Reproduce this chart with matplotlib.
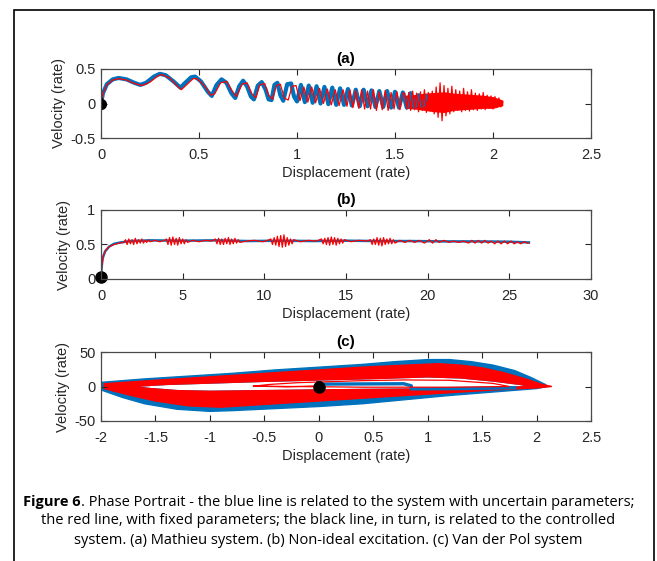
import matplotlib
matplotlib.use("Agg")
import matplotlib.pyplot as plt
import numpy as np
from matplotlib.patches import Rectangle, PathPatch
from matplotlib.path import Path
from matplotlib.ticker import FuncFormatter

BLUE = "#0072BD"
RED = "#FF0000"

# (a) Mathieu system: (displacement, velocity)
A_BLUE = [(0, 0), (0.01, 0.15), (0.03, 0.28), (0.06, 0.35), (0.09, 0.37), (0.13, 0.35),
          (0.17, 0.3), (0.2, 0.27), (0.23, 0.3), (0.27, 0.39), (0.3, 0.43), (0.33, 0.41),
          (0.37, 0.32), (0.405, 0.23), (0.43, 0.3), (0.46, 0.38), (0.48, 0.39), (0.51, 0.32),
          (0.545, 0.17), (0.565, 0.11), (0.59, 0.27), (0.615, 0.35), (0.64, 0.3), (0.665, 0.15),
          (0.685, 0.08), (0.705, 0.25), (0.725, 0.33), (0.745, 0.25), (0.765, 0.1), (0.78, 0.06),
          (0.8, 0.26), (0.82, 0.31), (0.84, 0.2), (0.855, 0.06), (0.87, 0.05), (0.885, 0.27),
          (0.9, 0.3), (0.915, 0.12), (0.93, 0.04), (0.95, 0.28), (0.97, 0.29), (0.985, 0.1),
          (1.0, 0.03), (1.02, 0.27), (1.04, 0.02), (1.06, 0.26), (1.08, 0.01), (1.1, 0.25),
          (1.12, 0.0), (1.14, 0.24), (1.16, -0.01), (1.18, 0.23), (1.2, -0.02), (1.22, 0.22),
          (1.24, -0.02), (1.26, 0.21), (1.28, -0.03), (1.3, 0.2), (1.32, -0.04), (1.34, 0.2),
          (1.36, -0.04), (1.38, 0.19), (1.4, -0.05), (1.42, 0.18), (1.44, -0.05), (1.46, 0.18),
          (1.48, -0.06), (1.5, 0.17), (1.52, -0.06), (1.54, 0.16), (1.56, -0.06), (1.58, 0.15),
          (1.6, -0.05), (1.62, 0.12), (1.64, -0.04), (1.66, 0.1)]

A_RED = [(0, 0), (0.01, 0.14), (0.03, 0.27), (0.06, 0.34), (0.09, 0.36), (0.13, 0.34),
         (0.17, 0.29), (0.21, 0.26), (0.25, 0.31), (0.29, 0.4), (0.31, 0.42), (0.35, 0.37),
         (0.39, 0.25), (0.41, 0.2), (0.44, 0.28), (0.47, 0.36), (0.49, 0.36), (0.53, 0.25),
         (0.56, 0.12), (0.58, 0.14), (0.61, 0.3), (0.64, 0.32), (0.67, 0.18), (0.69, 0.1),
         (0.72, 0.28), (0.745, 0.3), (0.77, 0.14), (0.79, 0.08), (0.81, 0.27), (0.835, 0.29),
         (0.855, 0.12), (0.875, 0.06), (0.895, 0.26), (0.915, 0.28), (0.935, 0.08), (0.955, 0.05),
         (0.975, 0.25), (0.995, 0.26), (1.015, 0.04), (1.035, 0.24), (1.055, 0.02), (1.075, 0.24),
         (1.095, 0.01), (1.115, 0.22), (1.135, 0.0), (1.155, 0.21), (1.175, -0.02), (1.195, 0.2),
         (1.215, -0.03), (1.235, 0.2), (1.255, -0.04), (1.27, 0.2), (1.285, -0.06), (1.3, 0.19),
         (1.315, -0.07), (1.33, 0.2), (1.345, -0.08), (1.36, 0.18), (1.375, -0.08), (1.39, 0.2),
         (1.405, -0.1), (1.42, 0.17), (1.435, -0.09), (1.45, 0.19), (1.465, -0.1), (1.48, 0.16),
         (1.495, -0.08), (1.51, 0.17), (1.525, -0.09), (1.54, 0.15),
         (1.55, 0.15), (1.56, -0.08), (1.57, 0.16), (1.58, -0.1), (1.59, 0.18), (1.6, -0.09),
         (1.61, 0.15), (1.62, -0.12), (1.63, 0.17), (1.64, -0.1), (1.65, 0.2), (1.66, -0.13),
         (1.67, 0.16), (1.68, -0.11), (1.69, 0.18), (1.7, -0.15), (1.71, 0.24), (1.72, -0.2),
         (1.73, 0.3), (1.74, -0.25), (1.75, 0.26), (1.76, -0.18), (1.77, 0.22), (1.78, -0.15),
         (1.79, 0.25), (1.8, -0.12), (1.81, 0.2), (1.82, -0.1), (1.83, 0.18), (1.84, -0.12),
         (1.85, 0.22), (1.86, -0.1), (1.87, 0.17), (1.88, -0.11), (1.89, 0.2), (1.9, -0.09),
         (1.91, 0.15), (1.92, -0.1), (1.93, 0.14), (1.94, -0.08), (1.95, 0.16), (1.96, -0.09),
         (1.97, 0.12), (1.98, -0.07), (1.99, 0.11), (2.0, -0.08), (2.01, 0.1), (2.02, -0.06),
         (2.03, 0.08), (2.04, -0.05), (2.05, 0.02)]

# solid core of the dense red part of (a)
A_CORE_X = [1.55, 1.6, 1.65, 1.7, 1.75, 1.8, 1.85, 1.9, 1.95, 2.0, 2.05]
A_CORE_HI = [0.12, 0.13, 0.15, 0.16, 0.17, 0.15, 0.14, 0.13, 0.12, 0.1, 0.05]
A_CORE_LO = [-0.07, -0.08, -0.1, -0.12, -0.13, -0.1, -0.09, -0.08, -0.07, -0.07, -0.03]

A_BLACK = [(0, -0.05), (0, 0.05)]

# (b) Non-ideal excitation
B_BLUE = [(0, 0.03), (0.03, 0.15), (0.1, 0.3), (0.25, 0.4), (0.5, 0.47), (0.8, 0.51), (1.2, 0.53),
          (1.8, 0.55), (3, 0.56), (5, 0.555), (7, 0.56), (9, 0.55), (11, 0.555), (13, 0.55),
          (15, 0.555), (17, 0.55), (19, 0.55), (21, 0.545), (23, 0.545), (25, 0.54), (26.2, 0.53)]

B_RED = [(0.0, 0.03), (0.05, 0.2), (0.15, 0.34), (0.3, 0.42), (0.5, 0.47), (0.8, 0.5), (1.1, 0.52),
         (1.4, 0.53), (1.5, 0.57), (1.6, 0.5), (1.7, 0.58), (1.8, 0.51), (1.9, 0.57), (2.0, 0.5),
         (2.1, 0.59), (2.2, 0.51), (2.3, 0.57), (2.4, 0.52), (2.5, 0.58), (2.6, 0.52), (2.7, 0.56),
         (2.8, 0.53), (2.9, 0.57), (3.0, 0.54), (3.3, 0.56), (3.6, 0.54), (3.9, 0.56),
         (4.0, 0.58), (4.1, 0.5), (4.2, 0.6), (4.3, 0.49), (4.4, 0.61), (4.5, 0.5), (4.6, 0.59),
         (4.7, 0.49), (4.8, 0.6), (4.9, 0.51), (5.0, 0.58), (5.1, 0.51), (5.2, 0.57), (5.3, 0.53),
         (5.6, 0.56), (6.0, 0.54), (6.4, 0.56), (6.8, 0.55),
         (7.0, 0.58), (7.1, 0.51), (7.2, 0.59), (7.3, 0.5), (7.4, 0.58), (7.5, 0.5), (7.6, 0.59),
         (7.7, 0.51), (7.8, 0.6), (7.9, 0.5), (8.0, 0.58), (8.1, 0.51), (8.2, 0.59), (8.3, 0.52),
         (8.4, 0.57), (8.5, 0.53), (8.9, 0.55), (9.4, 0.56), (9.9, 0.54), (10.2, 0.56),
         (10.4, 0.58), (10.5, 0.5), (10.6, 0.6), (10.7, 0.49), (10.8, 0.62), (10.9, 0.47),
         (11.0, 0.63), (11.1, 0.46), (11.2, 0.64), (11.3, 0.47), (11.4, 0.6), (11.5, 0.49),
         (11.6, 0.58), (11.7, 0.51), (11.8, 0.57), (12.2, 0.54), (12.7, 0.56), (13.2, 0.55),
         (13.5, 0.58), (13.6, 0.51), (13.7, 0.59), (13.8, 0.5), (13.9, 0.6), (14.0, 0.49),
         (14.1, 0.61), (14.2, 0.5), (14.3, 0.6), (14.4, 0.49), (14.5, 0.59), (14.6, 0.51),
         (14.7, 0.58), (14.8, 0.52), (14.9, 0.57), (15.3, 0.54), (15.8, 0.56), (16.3, 0.55),
         (16.5, 0.57), (16.6, 0.5), (16.7, 0.58), (16.8, 0.5), (16.9, 0.6), (17.0, 0.49),
         (17.1, 0.59), (17.2, 0.48), (17.3, 0.6), (17.4, 0.5), (17.5, 0.58), (17.6, 0.51),
         (17.7, 0.59), (17.8, 0.51), (17.9, 0.57), (18.0, 0.52), (18.3, 0.56), (18.6, 0.53),
         (18.9, 0.56), (19.2, 0.53), (19.5, 0.56), (19.8, 0.52), (20.1, 0.57), (20.3, 0.52),
         (20.5, 0.57), (20.7, 0.53), (21.0, 0.56), (21.3, 0.53), (21.6, 0.55), (21.9, 0.53),
         (22.2, 0.55), (22.5, 0.52), (22.7, 0.56), (22.9, 0.52), (23.1, 0.56), (23.3, 0.52),
         (23.5, 0.56), (23.7, 0.52), (23.9, 0.55), (24.1, 0.51), (24.3, 0.55), (24.5, 0.51),
         (24.7, 0.55), (24.9, 0.51), (25.1, 0.55), (25.3, 0.51), (25.5, 0.54), (25.7, 0.51),
         (25.9, 0.54), (26.1, 0.52), (26.2, 0.52)]

B_BLACK = [(0, 0.03), (0, 0.05)]

# (c) Van der Pol: the dense limit-cycle bands as outer/inner edges
C_BLUE_OUTER = [(-2.0, 6), (-1.6, 11), (-1.2, 15), (-0.8, 19), (-0.4, 24), (0.0, 28), (0.4, 32),
                (0.7, 36), (1.0, 39), (1.2, 39), (1.4, 36), (1.6, 31), (1.8, 23), (1.95, 13),
                (2.08, 3), (2.1, 0), (2.0, -3), (1.6, -8), (1.2, -13), (0.8, -19), (0.4, -25),
                (0.0, -29), (-0.4, -32), (-0.8, -35), (-1.0, -36), (-1.3, -33), (-1.6, -25),
                (-1.8, -16), (-2.0, -5)]
C_RED_OUTER = [(-1.97, 4), (-1.6, 8), (-1.2, 12), (-0.8, 16), (-0.4, 20), (0.0, 24), (0.4, 28),
               (0.8, 31), (1.1, 33), (1.3, 31), (1.5, 27), (1.7, 20), (1.9, 11), (2.05, 3),
               (2.14, 0), (2.0, -2), (1.6, -5), (1.2, -9), (0.8, -13), (0.4, -17), (0.0, -21),
               (-0.5, -26), (-0.9, -30), (-1.2, -28), (-1.5, -21), (-1.75, -12), (-1.97, -3)]
C_RED_INNER = [(-1.72, 0), (-1.4, 3), (-1.0, 5), (-0.5, 7.5), (0.0, 9.5), (0.5, 11.5), (1.0, 14),
               (1.3, 12.5), (1.6, 8), (1.85, 3), (1.95, 0), (1.6, -1.8), (1.2, -3), (0.8, -3.8),
               (0.4, -4.3), (0.0, -5), (-0.5, -6), (-1.0, -7), (-1.3, -6), (-1.55, -3)]
C_BLUE_INNER = [(0.0, 0), (0.05, 3.5), (0.78, 4), (0.85, 1), (0.85, -3.5), (1.3, -3), (1.8, -1.8)]
C_RED_THIN = [(0.0, 1), (-0.3, -0.5), (-0.6, 0.5), (-0.45, 3), (-0.2, 5.5), (0.1, 7), (0.4, 8.5),
              (0.8, 9.5), (1.2, 9), (1.6, 4.5), (1.75, 0), (1.2, -1), (0.4, -1), (-0.6, 0.5)]
C_BLACK = [(0, -4), (0, 4)]

TITLES = ["(a)", "(b)", "(c)"]
XLIMS = [(0, 2.5), (0, 30), (-2, 2.5)]
YLIMS = [(-0.5, 0.5), (0, 1), (-50, 50)]
XTICKS = [[0, 0.5, 1, 1.5, 2, 2.5], [0, 5, 10, 15, 20, 25, 30],
          [-2, -1.5, -1, -0.5, 0, 0.5, 1, 1.5, 2, 2.5]]
YTICKS = [[-0.5, 0, 0.5], [0, 0.5, 1], [-50, 0, 50]]

CAPTION_BOLD = "Figure 6"
CAPTION = [". Phase Portrait - the blue line is related to the system with uncertain parameters;",
           "the red line, with fixed parameters; the black line, in turn, is related to the controlled",
           "system. (a) Mathieu system. (b) Non-ideal excitation. (c) Van der Pol system"]


def xy(points):
    arr = np.asarray(points, dtype=float)
    return arr[:, 0], arr[:, 1]


def ring(outer, inner):
    outer = np.asarray(outer, dtype=float)
    inner = np.asarray(inner, dtype=float)[::-1]
    verts = np.vstack([outer, outer[:1], inner, inner[:1]])
    codes = ([Path.MOVETO] + [Path.LINETO] * (len(outer) - 1) + [Path.CLOSEPOLY]
             + [Path.MOVETO] + [Path.LINETO] * (len(inner) - 1) + [Path.CLOSEPOLY])
    return Path(verts, codes)


plt.rcParams["font.family"] = ["Liberation Sans", "DejaVu Sans"]
plt.rcParams["axes.unicode_minus"] = False

fig = plt.figure(figsize=(6.57, 5.61), dpi=100)
W, H = 657, 561
axes = []
for top in (69, 210, 352):
    axes.append(fig.add_axes([101 / W, 1 - (top + 69) / H, 490 / W, 69 / H]))

fmt = FuncFormatter(lambda v, _: f"{v:g}")
for ax, title, xl, yl, xt, yt in zip(axes, TITLES, XLIMS, YLIMS, XTICKS, YTICKS):
    ax.set_xlim(*xl)
    ax.set_ylim(*yl)
    ax.set_xticks(xt)
    ax.set_yticks(yt)
    ax.xaxis.set_major_formatter(fmt)
    ax.yaxis.set_major_formatter(fmt)
    ax.tick_params(direction="in", length=4, width=0.8, top=True, right=True,
                   labelsize=10.5, colors="#262626")
    ax.tick_params(axis="x", pad=7)
    ax.tick_params(axis="y", pad=4)
    for s in ax.spines.values():
        s.set_color("#4a4a4a")
        s.set_linewidth(0.9)
    ax.set_title(title, fontsize=11, fontweight="bold", pad=4)
    ax.set_xlabel("Displacement (rate)", fontsize=10.5, color="#262626", labelpad=3)
    ax.set_ylabel("Velocity (rate)", fontsize=10.5, color="#262626", labelpad=3)

# (a)
ax = axes[0]
ax.plot(*xy(A_BLUE), color=BLUE, lw=3)
ax.fill_between(A_CORE_X, A_CORE_LO, A_CORE_HI, color=RED, lw=0)
ax.plot(*xy(A_RED), color=RED, lw=0.9)
ax.plot(*xy(A_BLACK), color="black", lw=3)
ax.plot(0, 0, "o", color="black", ms=7)

# (b)
ax = axes[1]
ax.plot(*xy(B_BLUE), color=BLUE, lw=1.8)
ax.plot(*xy(B_RED), color=RED, lw=0.9)
ax.plot(*xy(B_BLACK), color="black", lw=3)
ax.plot(0, 0.03, "o", color="black", ms=8, clip_on=False)

# (c)
ax = axes[2]
ax.add_patch(PathPatch(ring(C_BLUE_OUTER, C_RED_INNER), facecolor=BLUE, edgecolor=BLUE, lw=1))
ax.add_patch(PathPatch(ring(C_RED_OUTER, C_RED_INNER), facecolor=RED, edgecolor=RED, lw=1))
ax.plot(*xy(C_BLUE_INNER), color=BLUE, lw=2.4)
ax.plot(*xy(C_RED_THIN), color=RED, lw=0.9)
ax.plot(*xy(C_BLACK), color="black", lw=4)
ax.plot(0, 0, "o", color="black", ms=8)

# frame around figure and caption
fig.patches.append(Rectangle((14 / W, -0.05), 640 / W, 1.05 - 10 / H, transform=fig.transFigure,
                             fill=False, edgecolor="black", lw=1.2))

cap_font = ["Open Sans", "DejaVu Sans"]
cap_size = 10.5
cap_y = [1 - 502 / H, 1 - 521 / H, 1 - 541 / H]
tb = fig.text(0, cap_y[0], CAPTION_BOLD, fontsize=cap_size, fontweight="bold", family=cap_font,
              va="center", ha="left")
tn = fig.text(0, cap_y[0], CAPTION[0], fontsize=cap_size, family=cap_font, va="center", ha="left")
fig.canvas.draw()
r = fig.canvas.get_renderer()
wb = tb.get_window_extent(r).width
wn = tn.get_window_extent(r).width
x0 = (W / 2 - (wb + wn) / 2) / W
tb.set_x(x0)
tn.set_x(x0 + wb / W)
for line, y in zip(CAPTION[1:], cap_y[1:]):
    fig.text(0.5, y, line, fontsize=cap_size, family=cap_font, va="center", ha="center")

fig.savefig("out.png", dpi=100)
